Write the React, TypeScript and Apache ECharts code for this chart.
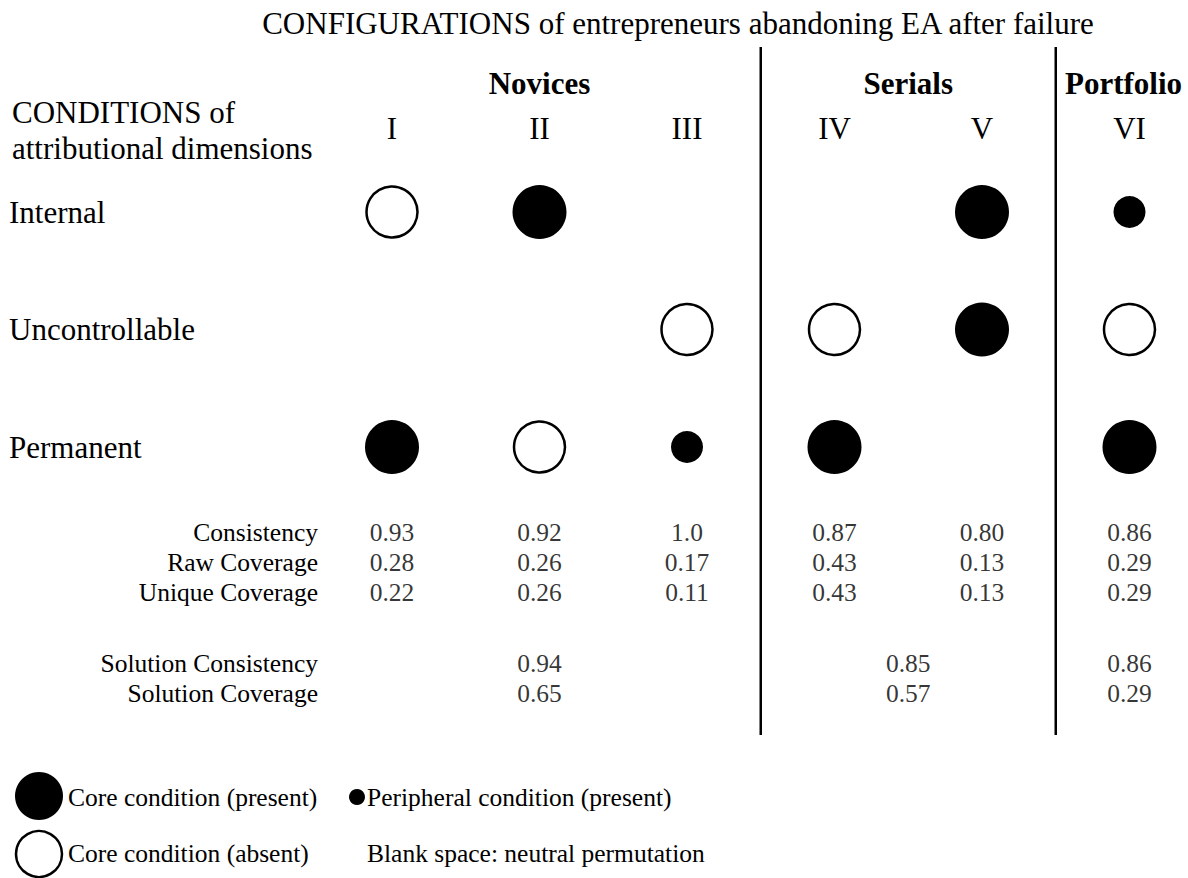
import React, { useEffect, useRef } from "react";
import * as echarts from "echarts";

// ---- data ----
const configurations = ["I", "II", "III", "IV", "V", "VI"];
const conditions = ["Internal", "Uncontrollable", "Permanent"];
// P = core condition present, A = core condition absent, p = peripheral present, "" = blank
const internalRow = ["A", "P", "", "", "P", "p"];
const uncontrollableRow = ["", "", "A", "A", "P", "A"];
const permanentRow = ["P", "A", "p", "P", "", "P"];

const statNames = ["Consistency", "Raw Coverage", "Unique Coverage"];
const consistency = ["0.93", "0.92", "1.0", "0.87", "0.80", "0.86"];
const rawCoverage = ["0.28", "0.26", "0.17", "0.43", "0.13", "0.29"];
const uniqueCoverage = ["0.22", "0.26", "0.11", "0.43", "0.13", "0.29"];

const solutionNames = ["Solution Consistency", "Solution Coverage"];
const groups = ["Novices", "Serials", "Portfolio"];
const groupPositions = [1, 3.5, 5];
const solutionConsistency = ["0.94", "0.85", "0.86"];
const solutionCoverage = ["0.65", "0.57", "0.29"];

const titleText = "CONFIGURATIONS of entrepreneurs abandoning EA after failure";
const headerText = "CONDITIONS of\nattributional dimensions";
const legendItems = [
  "Core condition (present)",
  "Peripheral condition (present)",
  "Core condition (absent)",
  "Blank space: neutral permutation",
];

// ---- layout ----
const FONT = '"Liberation Serif", "Times New Roman", serif';
const BIG = 31;
const SMALL = 25.5;
const X0 = 392;
const STEP = 147.5;
const colX = (i: number) => X0 + STEP * i;

export default function App() {
  const ref = useRef<HTMLDivElement>(null);

  useEffect(() => {
    document.body.style.margin = "0";
    if (!ref.current) return;
    const chart = echarts.init(ref.current, null, { renderer: "svg" });

    const matrix = [internalRow, uncontrollableRow, permanentRow];
    const pick = (code: string) => {
      const out: number[][] = [];
      matrix.forEach((row, r) =>
        row.forEach((c, i) => {
          if (c === code) out.push([i, r]);
        })
      );
      return out;
    };

    const statData: any[] = [];
    [consistency, rawCoverage, uniqueCoverage].forEach((arr, r) =>
      arr.forEach((v, i) => statData.push([i, r, v]))
    );
    const solData: any[] = [];
    [solutionConsistency, solutionCoverage].forEach((arr, r) =>
      arr.forEach((v, g) => solData.push([groupPositions[g], r, v]))
    );

    const gridLeft = X0;
    const gridRight = 1188 - colX(5);
    const xAxisBase = {
      type: "value",
      min: 0,
      max: 5,
      interval: 1,
      axisLine: { show: false },
      axisTick: { show: false },
      splitLine: { show: false },
    };

    const textLabel = {
      color: "#000",
      fontFamily: FONT,
    };

    const line1 = (colX(2) + colX(3)) / 2;
    const line2 = (colX(4) + colX(5)) / 2;

    const txt = (text: string, x: number, y: number, size: number, align = "left", bold = false) => ({
      type: "text",
      x,
      y,
      style: {
        text,
        fontSize: size,
        fontWeight: bold ? "bold" : "normal",
        fontFamily: FONT,
        fill: "#000",
        align,
        verticalAlign: "middle",
      },
    });

    const graphics: any[] = [
      txt(titleText, 678, 23, BIG, "center"),
      {
        type: "text",
        x: 12,
        y: 130,
        style: { text: headerText, fontSize: BIG, lineHeight: 36, fontFamily: FONT, fill: "#000", align: "left", verticalAlign: "middle" },
      },
      ...groups.map((g, i) => txt(g, colX(groupPositions[i]) - (i === 2 ? 6 : 0), 83, BIG, "center", true)),
      { type: "line", shape: { x1: line1, y1: 47, x2: line1, y2: 735 }, style: { stroke: "#000", lineWidth: 2.5 } },
      { type: "line", shape: { x1: line2, y1: 47, x2: line2, y2: 735 }, style: { stroke: "#000", lineWidth: 2.5 } },
      // legend
      { type: "circle", shape: { cx: 39, cy: 796, r: 24 }, style: { fill: "#000" } },
      txt(legendItems[0], 68, 797, SMALL),
      { type: "circle", shape: { cx: 357, cy: 797, r: 8 }, style: { fill: "#000" } },
      txt(legendItems[1], 367, 797, SMALL),
      { type: "circle", shape: { cx: 39, cy: 854, r: 23 }, style: { fill: "#fff", stroke: "#000", lineWidth: 2.5 } },
      txt(legendItems[2], 68, 853, SMALL),
      txt(legendItems[3], 367, 853, SMALL),
    ];

    const labelSeries = (name: string, axis: number, data: any[]) => ({
      type: "scatter",
      name,
      xAxisIndex: axis,
      yAxisIndex: axis,
      symbolSize: 1,
      itemStyle: { color: "transparent" },
      label: {
        show: true,
        position: "inside",
        ...textLabel,
        fontSize: SMALL,
        formatter: (p: any) => p.value[2],
      },
      data,
      silent: true,
    });

    chart.setOption({
      animation: false,
      backgroundColor: "#fff",
      grid: [
        { left: gridLeft, right: gridRight, top: 212, bottom: 878 - 447 },
        { left: gridLeft, right: gridRight, top: 517, height: 90 },
        { left: gridLeft, right: gridRight, top: 648, height: 60 },
      ],
      xAxis: [
        {
          ...xAxisBase,
          gridIndex: 0,
          position: "top",
          axisLabel: {
            ...textLabel,
            fontSize: BIG,
            margin: 68,
            formatter: (v: number) => configurations[v] ?? "",
          },
        },
        { ...xAxisBase, gridIndex: 1, axisLabel: { show: false } },
        { ...xAxisBase, gridIndex: 2, axisLabel: { show: false } },
      ],
      yAxis: [
        {
          type: "value",
          gridIndex: 0,
          min: 0,
          max: 2,
          interval: 1,
          inverse: true,
          axisLine: { show: false },
          axisTick: { show: false },
          splitLine: { show: false },
          axisLabel: {
            ...textLabel,
            fontSize: BIG,
            align: "left",
            margin: X0 - 9,
            formatter: (v: number) => conditions[v] ?? "",
          },
        },
        {
          type: "category",
          gridIndex: 1,
          data: statNames,
          inverse: true,
          axisLine: { show: false },
          axisTick: { show: false },
          splitLine: { show: false },
          axisLabel: { ...textLabel, fontSize: SMALL, interval: 0, margin: X0 - 318 },
        },
        {
          type: "category",
          gridIndex: 2,
          data: solutionNames,
          inverse: true,
          axisLine: { show: false },
          axisTick: { show: false },
          splitLine: { show: false },
          axisLabel: { ...textLabel, fontSize: SMALL, interval: 0, margin: X0 - 318 },
        },
      ],
      series: [
        {
          type: "scatter",
          name: "Core condition (present)",
          xAxisIndex: 0,
          yAxisIndex: 0,
          symbolSize: 54,
          itemStyle: { color: "#000", opacity: 1 },
          data: pick("P"),
          silent: true,
        },
        {
          type: "scatter",
          name: "Core condition (absent)",
          xAxisIndex: 0,
          yAxisIndex: 0,
          symbolSize: 51,
          itemStyle: { color: "#fff", borderColor: "#000", borderWidth: 2.5, opacity: 1 },
          data: pick("A"),
          silent: true,
        },
        {
          type: "scatter",
          name: "Peripheral condition (present)",
          xAxisIndex: 0,
          yAxisIndex: 0,
          symbolSize: 32,
          itemStyle: { color: "#000", opacity: 1 },
          data: pick("p"),
          silent: true,
        },
        labelSeries("Statistics", 1, statData),
        labelSeries("Solution", 2, solData),
      ],
      graphic: graphics,
    });

    return () => chart.dispose();
  }, []);

  return <div ref={ref} style={{ width: 1188, height: 878 }} />;
}
